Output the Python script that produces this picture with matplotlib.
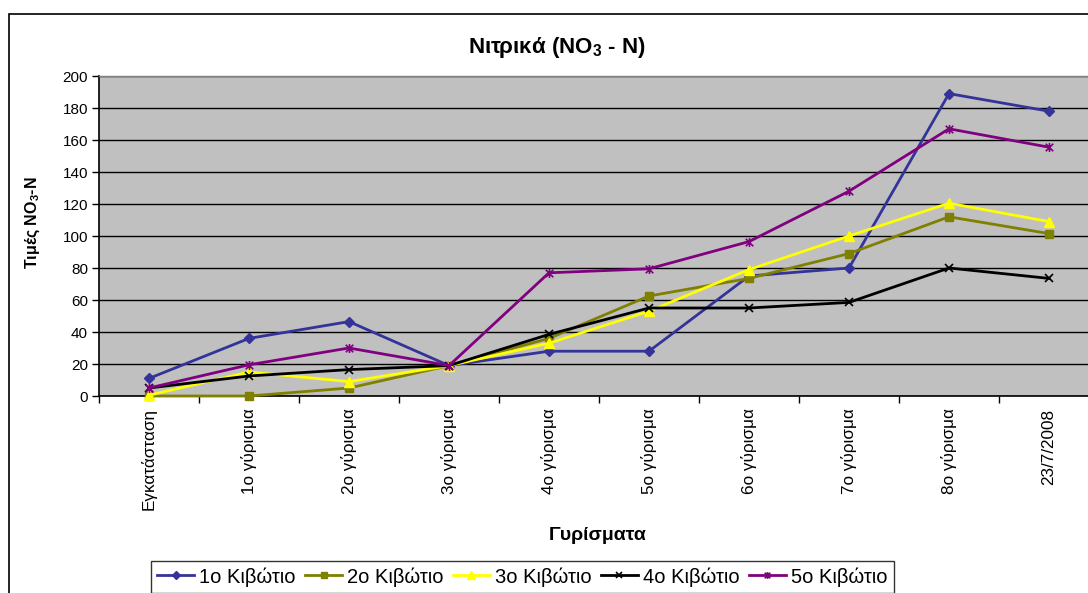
import matplotlib
matplotlib.use("Agg")
import matplotlib.pyplot as plt
from matplotlib.path import Path
from matplotlib.patches import Rectangle
from matplotlib.ticker import MultipleLocator, FixedLocator, NullFormatter
import numpy as np

plt.rcParams['font.family'] = ['Liberation Sans', 'DejaVu Sans']
plt.rcParams['mathtext.fontset'] = 'custom'
plt.rcParams['mathtext.rm'] = 'Liberation Sans'
plt.rcParams['mathtext.bf'] = 'Liberation Sans:bold'

categories = ["Εγκατάσταση", "1ο γύρισμα", "2ο γύρισμα", "3ο γύρισμα", "4ο γύρισμα",
              "5ο γύρισμα", "6ο γύρισμα", "7ο γύρισμα", "8ο γύρισμα", "23/7/2008"]

box1 = [11, 36, 46.5, 19, 28, 28, 75, 80, 189, 178]
box2 = [0, 0, 5, 19, 36, 62.5, 73.5, 89, 112, 101.5]
box3 = [0.5, 15, 9, 19, 33, 53, 79, 100, 120.5, 109]
box4 = [5, 12.5, 16.5, 19, 38.5, 55, 55, 58.5, 80, 73.5]
box5 = [5, 19.5, 30, 19, 77, 79.5, 96.5, 128, 167, 155.5]

series_names = ["1ο Κιβώτιο", "2ο Κιβώτιο", "3ο Κιβώτιο", "4ο Κιβώτιο", "5ο Κιβώτιο"]

# Asterisk marker: an "x" with a vertical stroke through it
asterisk = Path([(-1, -1), (1, 1), (-1, 1), (1, -1), (0, -1.2), (0, 1.2)],
                [Path.MOVETO, Path.LINETO, Path.MOVETO, Path.LINETO, Path.MOVETO, Path.LINETO])

styles = [
    dict(color="#333399", marker="D", ms=5.0),
    dict(color="#808000", marker="s", ms=5.5),
    dict(color="#FFFF00", marker="^", ms=7.0),
    dict(color="#000000", marker="x", ms=6.0, mew=1.2),
    dict(color="#800080", marker=asterisk, ms=6.5, mew=1.2),
]

W, H = 1088, 593
fig = plt.figure(figsize=(W / 100, H / 100), dpi=100)

# Chart-area frame (extends past the right and bottom edges)
fig.patches.append(Rectangle((9 / W, -0.2), 1.2, 1 - 14 / H + 0.2,
                             transform=fig.transFigure, fill=False,
                             edgecolor="black", linewidth=1.2, zorder=0))

ax = fig.add_axes([99 / W, 1 - 396 / H, 1000 / W, 320 / H])
ax.set_facecolor("#C0C0C0")

x = np.arange(len(categories))
for vals, name, st in zip([box1, box2, box3, box4, box5], series_names, styles):
    ax.plot(x, vals, color=st["color"], linewidth=2.0, marker=st["marker"],
            markersize=st["ms"], markerfacecolor=st["color"],
            markeredgecolor=st["color"], markeredgewidth=st.get("mew", 1.0),
            label=name, clip_on=False, zorder=3)

ax.set_xlim(-0.5, len(categories) - 0.5)
ax.set_ylim(0, 200)
ax.yaxis.set_major_locator(MultipleLocator(20))
ax.yaxis.grid(True, color="black", linewidth=1.0)
ax.set_axisbelow(True)

ax.set_xticks(x)
ax.set_xticklabels(categories, rotation=90, fontsize=12.3)
ax.xaxis.set_minor_locator(FixedLocator(np.arange(-0.5, len(categories), 1.0)))
ax.xaxis.set_minor_formatter(NullFormatter())
ax.tick_params(axis="x", which="major", length=0, pad=9)
ax.tick_params(axis="x", which="minor", length=5, width=1, direction="out")
ax.tick_params(axis="y", length=5, width=1, direction="out", labelsize=11, pad=3)

for side in ("top", "right"):
    ax.spines[side].set_color("#808080")
    ax.spines[side].set_linewidth(1.0)
for side in ("left", "bottom"):
    ax.spines[side].set_color("black")
    ax.spines[side].set_linewidth(1.2)

fig.text(557 / W, 1 - 48 / H, "Νιτρικά (NO$_\\mathbf{3}$ - N)", ha="center", va="center",
         fontsize=16, fontweight="bold")
fig.text(598 / W, 1 - 535 / H, "Γυρίσματα", ha="center", va="center",
         fontsize=14, fontweight="bold")
fig.text(33 / W, 1 - 223 / H, "Τιμές NO$_\\mathbf{3}$-N", ha="center", va="center",
         rotation=90, fontsize=11.5, fontweight="bold")

leg = fig.legend(loc="upper left", bbox_to_anchor=(151 / W, 1 - 561 / H), ncol=5,
                 fontsize=14.5, frameon=True, fancybox=False, edgecolor="black",
                 handlelength=1.85, handletextpad=0.25, columnspacing=0.45,
                 borderpad=0.3, borderaxespad=0, markerscale=0.75)
leg.get_frame().set_linewidth(1.0)

fig.savefig("out.png", dpi=100)
